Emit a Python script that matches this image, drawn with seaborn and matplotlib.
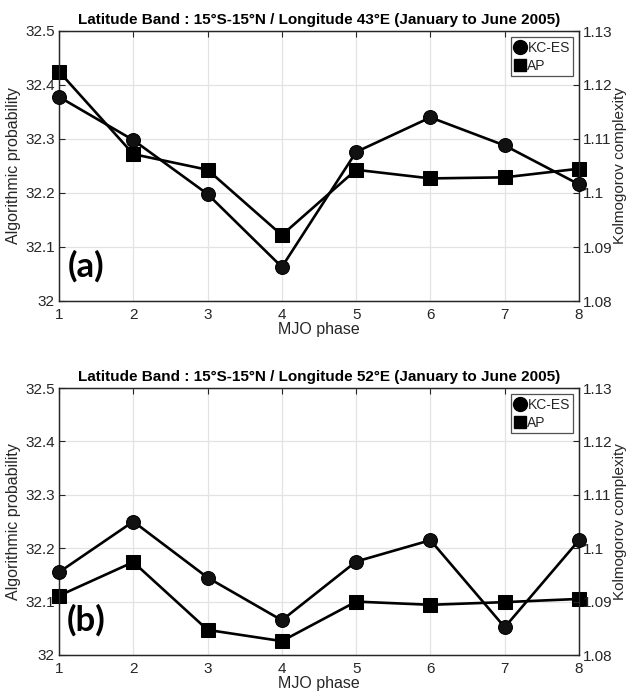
import matplotlib
matplotlib.use("Agg")
import matplotlib.pyplot as plt
from matplotlib.lines import Line2D
import numpy as np
import pandas as pd
import seaborn as sns

# ---- data ----
phases = [1, 2, 3, 4, 5, 6, 7, 8]
titles = [
    "Latitude Band : 15°S-15°N / Longitude 43°E (January to June 2005)",
    "Latitude Band : 15°S-15°N / Longitude 52°E (January to June 2005)",
]
panel_labels = ["(a)", "(b)"]
ap_a = [32.425, 32.272, 32.243, 32.122, 32.243, 32.227, 32.229, 32.245]
kc_a = [1.1178, 1.1098, 1.0998, 1.0863, 1.1076, 1.1140, 1.1088, 1.1016]
ap_b = [32.111, 32.174, 32.047, 32.026, 32.100, 32.094, 32.099, 32.105]
kc_b = [1.0955, 1.1050, 1.0945, 1.0865, 1.0975, 1.1015, 1.0852, 1.1015]
left_ticks = [32, 32.1, 32.2, 32.3, 32.4, 32.5]
left_ticklabels = ["32", "32.1", "32.2", "32.3", "32.4", "32.5"]
right_ticks = [1.08, 1.09, 1.10, 1.11, 1.12, 1.13]
right_ticklabels = ["1.08", "1.09", "1.1", "1.11", "1.12", "1.13"]
legend_labels = ["KC-ES", "AP"]

sns.set_theme(style="white")
plt.rcParams["font.family"] = ["Liberation Sans", "DejaVu Sans"]

fig = plt.figure(figsize=(6.27, 6.91), dpi=100)
W, H = 627, 691
boxes = [(59, 31, 579, 301), (59, 388, 579, 655)]

series = [(ap_a, kc_a), (ap_b, kc_b)]
for i, (x0, y0, x1, y1) in enumerate(boxes):
    ax = fig.add_axes([x0 / W, 1 - y1 / H, (x1 - x0) / W, (y1 - y0) / H])
    ap, kc = series[i]
    df = pd.DataFrame({"phase": phases, "AP": ap, "KC": kc})
    sns.lineplot(data=df, x="phase", y="AP", ax=ax, color="black", lw=1.9,
                 marker="s", markersize=9.5, markeredgecolor="black",
                 markerfacecolor="black", zorder=3, clip_on=False)
    ax.set_xlim(1, 8)
    ax.set_ylim(32, 32.5)
    ax.set_xticks(phases)
    ax.set_xticklabels([str(p) for p in phases], fontsize=11)
    ax.set_yticks(left_ticks)
    ax.set_yticklabels(left_ticklabels, fontsize=11)
    ax.grid(True, color="#e3e3e3", lw=0.9)
    ax.set_axisbelow(True)
    ax.tick_params(direction="in", length=4, width=0.8, top=True, right=False,
                   pad=3, colors="#262626")
    ax.tick_params(axis="x", pad=5)
    ax.set_xlabel("MJO phase", fontsize=11.5, labelpad=0, color="#262626")
    ax.set_ylabel("Algorithmic probability", fontsize=11.5, labelpad=3, color="#262626")
    ax.set_title(titles[i], fontsize=11, fontweight="bold", pad=5, color="black")
    for s in ax.spines.values():
        s.set_color("#262626")
        s.set_linewidth(0.9)

    ax2 = ax.twinx()
    sns.lineplot(data=df, x="phase", y="KC", ax=ax2, color="black", lw=1.9,
                 marker="o", markersize=10, markeredgecolor="black",
                 markerfacecolor="#111111", zorder=3, clip_on=False)
    ax2.set_ylim(1.08, 1.13)
    ax2.set_yticks(right_ticks)
    ax2.set_yticklabels(right_ticklabels, fontsize=11, color="#262626")
    ax2.tick_params(direction="in", length=4, width=0.8, pad=3, colors="#262626")
    ax2.set_ylabel("Kolmogorov complexity", fontsize=11, labelpad=0, color="#262626")
    ax2.set_xlabel("")
    ax2.grid(False)
    for s in ax2.spines.values():
        s.set_color("#262626")
        s.set_linewidth(0.9)

    ax.text(1.36, 32.065, panel_labels[i], fontsize=25, fontweight="bold",
            family=["Lato", "DejaVu Sans"], ha="center", va="center",
            color="black")

    handles = [
        Line2D([], [], ls="none", marker="o", markersize=10, color="black"),
        Line2D([], [], ls="none", marker="s", markersize=9, color="black"),
    ]
    leg = ax2.legend(handles, legend_labels, loc="upper right",
                     bbox_to_anchor=(0.989, 0.977), fontsize=10,
                     frameon=True, fancybox=False, handlelength=0.8,
                     handletextpad=0.15, borderpad=0.25, labelspacing=0.3,
                     borderaxespad=0.0)
    leg.get_frame().set_edgecolor("#262626")
    leg.get_frame().set_linewidth(0.9)

fig.savefig("out.png", dpi=100)
